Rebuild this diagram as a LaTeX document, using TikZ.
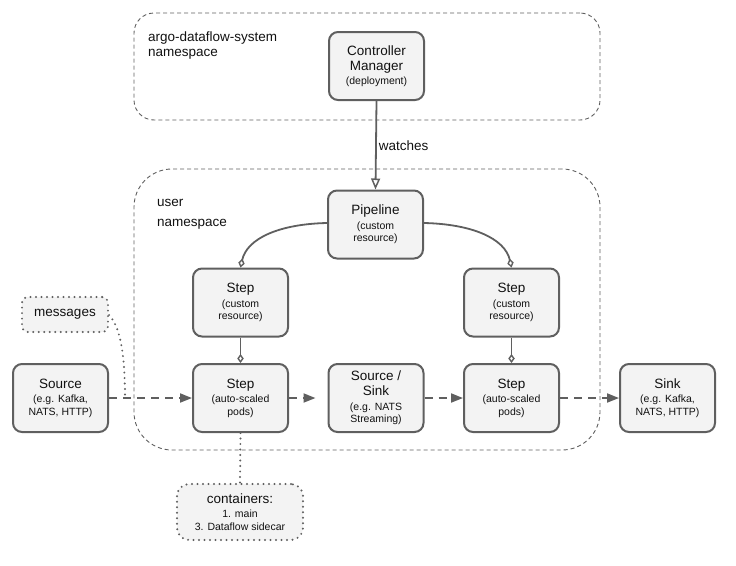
\documentclass[tikz,border=0pt]{standalone}
\usepackage{fontspec}
\setmainfont{Liberation Sans}
\usetikzlibrary{arrows.meta}
\definecolor{bord}{HTML}{5F5F5F}
\definecolor{boxfill}{HTML}{F3F3F3}
\definecolor{txt}{HTML}{111111}
\newcommand{\ttl}[1]{{\fontsize{13.5}{15}\selectfont #1}}
\begin{document}
\begin{tikzpicture}[x=1pt,y=-1pt,
  box/.style={draw=bord, fill=boxfill, line width=2pt, rounded corners=9pt,
    minimum width=95pt, minimum height=68pt, align=center, inner sep=0pt,
    text=txt, font=\fontsize{10.5}{12.5}\selectfont},
  dotbox/.style={draw=bord, fill=boxfill, line width=2.2pt, line cap=round,
    dash pattern=on 0pt off 5.5pt, align=center, inner sep=0pt, text=txt,
    font=\fontsize{10.5}{12.5}\selectfont},
  nsbox/.style={draw=bord, line width=0.9pt, dash pattern=on 4pt off 3pt, inner sep=0pt},
  lbl/.style={text=txt, font=\fontsize{13.5}{15}\selectfont, align=left, inner sep=0pt},
  flow/.style={draw=bord, line width=1.8pt, dash pattern=on 8pt off 6pt,
    -{Triangle[length=12pt,width=9pt]}},
  dotline/.style={draw=bord, line width=2.2pt, line cap=round, dash pattern=on 0pt off 5.5pt},
  agg/.style={draw=bord, line width=1.8pt, -{Diamond[open,length=9pt,width=6.5pt,line width=1.4pt]}},
]
\useasboundingbox (0,0) rectangle (736,565);

% namespaces
\node[nsbox, rounded corners=20pt, minimum width=466pt, minimum height=107pt] (sysns) at (367,66.5) {};
\node[nsbox, rounded corners=38pt, minimum width=466pt, minimum height=281pt] (userns) at (367,309.5) {};
\node[lbl, anchor=base west] (syslbl) at (148,41) {argo-dataflow-system};
\node[lbl, anchor=base west] (syslbl2) at (148,56) {namespace};
\node[lbl, anchor=base west] (userlbl) at (157,206.5) {user};
\node[lbl, anchor=base west] (userlbl2) at (157,226.5) {namespace};

% nodes
\node[box] (cm) at (376.5,66) {\ttl{Controller}\\[2.5pt]\ttl{Manager}\\[2pt](deployment)};
\node[box] (pipe) at (375.5,224.5) {\ttl{Pipeline}\\[2pt](custom\\resource)};
\node[box] (stepcL) at (240.5,302.5) {\ttl{Step}\\[2pt](custom\\resource)};
\node[box] (stepcR) at (511.5,302.5) {\ttl{Step}\\[2pt](custom\\resource)};
\node[box] (src) at (60.5,398) {\ttl{Source}\\[2pt](e.g. Kafka,\\NATS, HTTP)};
\node[box] (stepaL) at (240.5,398) {\ttl{Step}\\[2pt](auto-scaled\\pods)};
\node[box] (ss) at (376,398) {\ttl{Source /}\\[2.5pt]\ttl{Sink}\\[2pt](e.g. NATS\\Streaming)};
\node[box] (stepaR) at (511.5,398) {\ttl{Step}\\[2pt](auto-scaled\\pods)};
\node[box] (sink) at (667.5,398) {\ttl{Sink}\\[2pt](e.g. Kafka,\\NATS, HTTP)};
\node[dotbox, rounded corners=6pt, minimum width=86pt, minimum height=35pt] (msg) at (65,314.5) {\ttl{messages}};
\node[dotbox, rounded corners=12pt, minimum width=126pt, minimum height=56pt] (cont) at (240,512) {\ttl{containers:}\\[2pt]1. main\\3. Dataflow sidecar};

% watches
\draw[draw=bord, line width=1.8pt, -{Triangle[open,length=11pt,width=9pt,line width=1.5pt]}] (cm.south) -- (pipe.north)
  node[pos=0.5, right=2pt, lbl] (watch) {watches};

% aggregation
\draw[agg] (pipe.west |- 0,223) .. controls (280,224) and (247,238) .. (stepcL.north);
\draw[agg] (pipe.east |- 0,223) .. controls (471,224) and (505,238) .. (stepcR.north);
\draw[agg] (stepcL.south) -- (stepaL.north);
\draw[agg] (stepcR.south) -- (stepaR.north);

% flows
\draw[flow] (src.east) -- (stepaL.west);
\draw[flow, shorten >=12pt] (stepaL.east) -- (ss.west);
\draw[flow] (ss.east) -- (stepaR.west);
\draw[flow] (stepaR.east) -- (sink.west);

% dotted connectors
\coordinate (msgend) at (125,398);
\draw[dotline] (msg.east |- 0,315) .. controls (118,325) and (125,345) .. (msgend);
\draw[dotline] (stepaL.south) -- (cont.north);
\end{tikzpicture}
\end{document}
